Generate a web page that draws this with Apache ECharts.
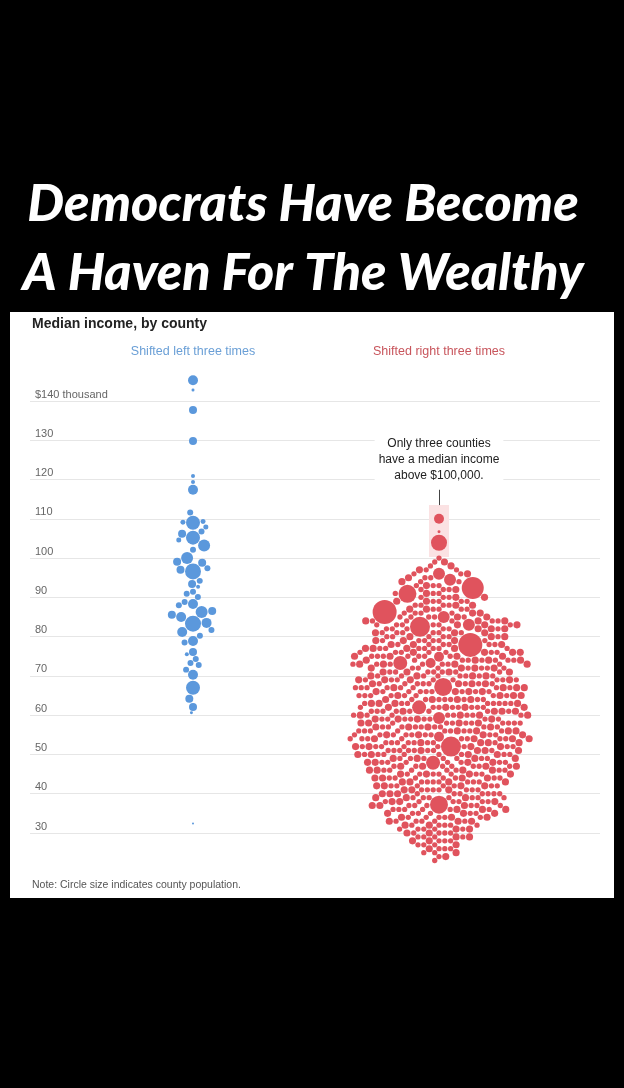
<!DOCTYPE html>
<html lang="en">
<head>
<meta charset="UTF-8">
<title>Median income, by county</title>
<script src="https://cdn.jsdelivr.net/npm/echarts@6/dist/echarts.min.js"></script>
<style>
  html, body { margin: 0; padding: 0; background: #000; }
  #chart { width: 624px; height: 1088px; }
</style>
</head>
<body>
<div id="chart"></div>
<script>
// y axis tick values ($ thousand)
const yTicks = [30, 40, 50, 60, 70, 80, 90, 100, 110, 120, 130, 140];

// counties that shifted left three times: median income ($k) and population (k)
const leftIncome = [145.3, 142.8, 137.7, 129.8, 120.9, 119.4, 117.4, 111.6, 109.0, 109.3,
  109.1, 107.9, 106.8, 105.2, 106.2, 104.6, 103.2, 102.1, 100.0, 98.8,
  99.1, 97.0, 96.6, 97.4, 94.2, 93.4, 92.7, 91.4, 90.9, 90.1,
  88.3, 88.8, 88.0, 86.3, 86.5, 85.6, 85.0, 83.3, 83.5, 81.2,
  81.7, 80.2, 78.9, 78.5, 76.1, 75.5, 74.3, 73.3, 72.8, 71.6,
  70.3, 67.0, 64.2, 62.1, 60.6, 32.4];
const leftPop = [156, 14, 100, 100, 25, 25, 156, 56, 306, 39,
  39, 39, 56, 306, 100, 39, 225, 56, 225, 100,
  100, 100, 400, 56, 56, 100, 25, 56, 56, 56,
  156, 56, 56, 225, 100, 100, 156, 400, 156, 156,
  56, 56, 156, 56, 100, 25, 56, 56, 56, 56,
  156, 306, 100, 100, 14, 6];

// counties that shifted right three times: the larger ones one by one
const rightBigIncome = [110.0, 106.7, 103.9, 96.0, 94.5, 92.4, 90.9, 86.3, 85.0, 83.0,
  82.5, 77.9, 74.9, 73.3, 73.3, 67.2, 62.0, 59.3, 54.5, 52.0, 47.9, 37.2];
const rightBigPop = [156, 14, 400, 225, 225, 756, 506, 900, 225, 225,
  625, 900, 156, 306, 156, 506, 306, 225, 156, 625, 306, 506];

// ...and the rest counted per $1k band of median income (small and mid-sized counties)
const rightBands = [23, 24, 25, 26, 27, 28, 29, 30, 31, 32, 33, 34, 35, 36, 37, 38, 39,
  40, 41, 42, 43, 44, 45, 46, 47, 48, 49, 50, 51, 52, 53, 54, 55, 56, 57, 58, 59,
  60, 61, 62, 63, 64, 65, 66, 67, 68, 69, 70, 71, 72, 73, 74, 75, 76, 77, 78, 79,
  80, 81, 82, 83, 84, 85, 86, 87, 88, 89, 90, 91, 92, 93, 94, 95, 96, 97, 98, 99, 100];
const rightSmallCounts = [1, 1, 2, 3, 3, 3, 4,
  4, 5, 5, 5, 5, 5, 6, 6, 6, 7,
  7, 7, 7, 7, 7, 7, 7, 7, 7, 7,
  8, 8, 8, 8, 8, 9, 9, 9, 9, 8,
  8, 8, 8, 8, 8, 8, 8, 8, 8, 8,
  8, 7, 7, 7, 7, 7, 7, 7, 6, 6,
  6, 6, 6, 6, 5, 5, 4, 4, 4, 4,
  3, 3, 3, 3, 2, 2, 2, 2, 1, 1, 1];
const rightMidCounts = [0, 1, 1, 1, 1, 2, 2,
  2, 2, 2, 3, 3, 3, 3, 3, 3, 3,
  3, 3, 4, 4, 4, 4, 4, 4, 4, 4,
  4, 4, 4, 4, 4, 4, 4, 4, 4, 4,
  4, 4, 4, 4, 4, 4, 4, 4, 4, 4,
  4, 4, 4, 4, 4, 4, 4, 4, 3, 3,
  3, 3, 3, 3, 3, 2, 2, 2, 2, 2,
  2, 1, 1, 1, 1, 1, 1, 1, 1, 1, 0];
const smallPop = 44;
const midPop = 80;

// layout
const GRID = { left: 30, right: 24, top: 401, bottom: 255 };
const GRID_W = 624 - GRID.left - GRID.right;
const PX_PER_K = (1088 - GRID.top - GRID.bottom) / (yTicks[yTicks.length - 1] - yTicks[0]);
const LEFT_X = 163;   // column centres, in grid pixels
const RIGHT_X = 409;
const PAD = 0.5;
// which half of the swarm each big right-hand county leans to (0 = middle)
const bigSideHint = [0, 0, 0, 0, 1, 1, -1, -1, 1, -1, 1, -1, 1, -1, 1, 1, -1, 1, 1, 1, 1, 0];

function radius(pop) { return 0.4 * Math.sqrt(pop); }

// simple beeswarm: each circle goes to the free spot closest to the column centre
function dodge(items, pad) {
  const placed = [];
  items.forEach((it, i) => {
    const y = it.income * PX_PER_K;
    const r = radius(it.pop);
    const near = placed.filter(p => Math.abs(p.y - y) < p.r + r + pad);
    const cands = [0];
    near.forEach(p => {
      const d = p.r + r + pad, dy = p.y - y;
      const dx = Math.sqrt(Math.max(0, d * d - dy * dy));
      cands.push(p.x - dx, p.x + dx);
    });
    const lean = it.side || 0;
    const cost = c => Math.abs(c) + (lean && lean * c < 0 ? 12 : 0);
    const tie = i % 2 ? 1 : -1;
    cands.sort((a, b) => (cost(a) - cost(b)) || (tie * (b - a)));
    let x = 0;
    for (const c of cands) {
      const ok = near.every(p => {
        const d = p.r + r + pad;
        return (p.x - c) * (p.x - c) + (p.y - y) * (p.y - y) >= d * d - 1e-6;
      });
      if (ok) { x = c; break; }
    }
    placed.push({ x: x, y: y, r: r, income: it.income });
  });
  return placed;
}

const leftItems = leftIncome.map((v, i) => ({ income: v, pop: leftPop[i] }))
  .sort((a, b) => b.pop - a.pop);
const leftPlaced = dodge(leftItems, 0.6);

// right column is filled from the top down; big counties enter a little early
const rightItems = rightBigIncome.map((v, i) => {
  const reach = radius(rightBigPop[i]) + radius(midPop) + PAD;
  const lead = bigSideHint[i] ? 0.6 : 0.9;
  return { income: v, pop: rightBigPop[i], key: v + lead * reach / PX_PER_K, side: bigSideHint[i] };
});
rightBands.forEach((b, i) => {
  let s = rightSmallCounts[i], m = rightMidCounts[i];
  while (s > 0 || m > 0) {
    if (s > 0) { rightItems.push({ income: b, pop: smallPop, key: b }); s--; }
    if (s > 0) { rightItems.push({ income: b, pop: smallPop, key: b }); s--; }
    if (m > 0) { rightItems.push({ income: b, pop: midPop, key: b }); m--; }
  }
});
rightItems.sort((a, b) => b.key - a.key);
const rightPlaced = dodge(rightItems, PAD);

const myChart = echarts.init(document.getElementById('chart'));
const panelFont = '"Liberation Sans", Arial, sans-serif';
const titleFont = 'italic 900 52px Lato, "DejaVu Sans", sans-serif';

const option = {
  animation: false,
  grid: GRID,
  xAxis: { type: 'value', min: 0, max: GRID_W, show: false },
  yAxis: {
    type: 'value',
    min: yTicks[0],
    max: yTicks[yTicks.length - 1],
    interval: 10,
    axisLine: { show: false },
    axisTick: { show: false },
    axisLabel: {
      inside: true,
      margin: 5,
      align: 'left',
      verticalAlign: 'bottom',
      padding: [0, 0, 1, 0],
      color: '#666',
      fontSize: 11,
      fontFamily: panelFont,
      formatter: v => v === 140 ? '$140 thousand' : String(v)
    },
    splitLine: { lineStyle: { color: '#e6e6e6', width: 1 } }
  },
  graphic: [
    { type: 'rect', z: -10, shape: { x: 10, y: 312, width: 604, height: 586 }, style: { fill: '#fff' } },
    {
      type: 'text', x: 303, y: 204,
      style: { text: 'Democrats Have Become', fill: '#fff', align: 'center', verticalAlign: 'middle', font: titleFont }
    },
    {
      type: 'text', x: 303, y: 273,
      style: { text: 'A Haven For The Wealthy', fill: '#fff', align: 'center', verticalAlign: 'middle', font: titleFont }
    },
    {
      type: 'text', x: 32, y: 324,
      style: { text: 'Median income, by county', fill: '#222', verticalAlign: 'middle',
        font: 'bold 14px ' + panelFont }
    },
    {
      type: 'text', x: 193, y: 352,
      style: { text: 'Shifted left three times', fill: '#6a9fd6', align: 'center', verticalAlign: 'middle',
        font: '12.5px ' + panelFont }
    },
    {
      type: 'text', x: 439, y: 352,
      style: { text: 'Shifted right three times', fill: '#c8555c', align: 'center', verticalAlign: 'middle',
        font: '12.5px ' + panelFont }
    },
    {
      type: 'text', x: 439, y: 436, z: 5,
      style: { text: 'Only three counties\nhave a median income\nabove $100,000.', fill: '#222',
        align: 'center', verticalAlign: 'top', lineHeight: 16, font: '12px ' + panelFont,
        backgroundColor: '#fff', padding: [0, 4] }
    },
    {
      type: 'text', x: 32, y: 885,
      style: { text: 'Note: Circle size indicates county population.', fill: '#555', verticalAlign: 'middle',
        font: '10.5px ' + panelFont }
    }
  ],
  series: [
    {
      name: 'Shifted left three times',
      type: 'scatter',
      clip: false,
      progressive: 0,
      data: leftPlaced.map(p => [LEFT_X + p.x, p.income, p.r]),
      symbolSize: v => v[2] * 2,
      itemStyle: { color: '#5b98dc', opacity: 1 }
    },
    {
      name: 'Shifted right three times',
      type: 'scatter',
      clip: false,
      progressive: 0,
      data: rightPlaced.map(p => [RIGHT_X + p.x, p.income, p.r]),
      symbolSize: v => v[2] * 2,
      itemStyle: { color: '#e0535d', opacity: 1 },
      markArea: {
        silent: true,
        itemStyle: { color: '#fbe2e3' },
        data: [[{ coord: [RIGHT_X - 10, 100.3] }, { coord: [RIGHT_X + 10, 113.5] }]]
      },
      markLine: {
        silent: true,
        symbol: 'none',
        label: { show: false },
        lineStyle: { color: '#444', width: 1, type: 'solid' },
        data: [[{ coord: [RIGHT_X, 113.5] }, { coord: [RIGHT_X, 117.4] }]]
      }
    }
  ]
};
myChart.setOption(option);
</script>
</body>
</html>
